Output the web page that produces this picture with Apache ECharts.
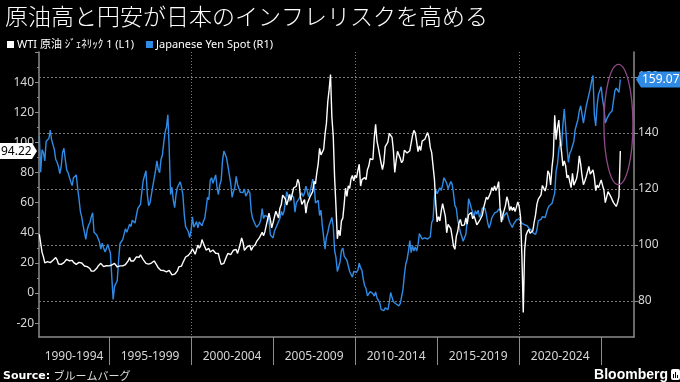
<!DOCTYPE html>
<html><head><meta charset="utf-8">
<script src="https://cdn.jsdelivr.net/npm/echarts@6/dist/echarts.min.js"></script>
<style>html,body{margin:0;padding:0;background:#000}#c{width:680px;height:382px}</style>
</head><body><div id="c"></div>
<script>
// Monthly series, first point = Oct 1990
const startYear = 1990, startMonth = 10;
const titleText = '原油高と円安が日本のインフレリスクを高める';
const wtiName = 'WTI 原油 ｼﾞｪﾈﾘｯｸ 1 (L1)';
const yenName = 'Japanese Yen Spot (R1)';

const wti1990s = [
  39, 33, 27,
  24, 20, 19.5, 20.8, 21.2, 20.2, 21.4, 21.7, 22.2, 23.5, 22.0, 19.3,
  18.8, 19.0, 18.9, 20.2, 20.9, 22.4, 21.8, 21.4, 21.9, 21.7, 20.3, 19.4,
  19.0, 20.1, 20.3, 20.3, 19.9, 19.1, 17.9, 18.0, 17.5, 18.1, 16.3, 14.5,
  15.0, 14.6, 14.7, 16.4, 17.9, 19.1, 19.7, 18.4, 17.5, 17.7, 18.1, 17.2,
  18.0, 18.5, 18.6, 19.9, 19.7, 18.4, 17.3, 17.9, 18.0, 17.4, 18.0, 19.0,
  18.9, 19.1, 21.3, 23.6, 21.3, 20.5, 21.3, 22.0, 24.0, 25.2, 23.7, 25.4,
  25.2, 22.2, 21.0, 19.7, 20.8, 19.2, 19.6, 19.9, 19.8, 21.3, 20.2, 18.3,
  16.7, 16.1, 15.0, 15.4, 14.9, 13.7, 14.1, 13.4, 15.0, 14.4, 12.0, 11.3,
  12.5, 12.0, 14.7, 17.3, 17.8, 17.9, 20.1, 21.3, 23.9, 22.6, 25.0, 26.1
];
const wti2000s = [
  27.3, 29.4, 29.9, 25.7, 28.8, 31.8, 29.7, 31.3, 35.5, 33.1, 34.4, 28.5,
  29.6, 29.6, 27.2, 27.4, 28.6, 27.6, 26.4, 27.4, 26.2, 22.2, 19.0, 19.4,
  19.7, 20.7, 24.4, 26.3, 27.0, 25.5, 26.9, 28.4, 29.7, 28.9, 26.3, 29.4,
  32.9, 36.5, 33.6, 28.3, 28.1, 30.7, 30.8, 31.6, 28.3, 30.3, 31.1, 32.2,
  34.3, 34.7, 36.8, 36.7, 40.3, 38.0, 40.7, 44.9, 45.9, 53.1, 48.5, 43.3,
  46.8, 48.0, 54.3, 53.0, 49.8, 56.3, 58.7, 65.0, 65.6, 62.4, 58.3, 59.4,
  65.5, 61.6, 62.9, 69.7, 70.9, 70.9, 75.5, 73.0, 63.8, 58.9, 59.1, 62.0,
  53.0, 59.3, 60.4, 63.9, 63.5, 67.5, 74.1, 72.4, 79.9, 85.8, 96.0, 91.7,
  93.0, 95.4, 105.5, 112.6, 127.0, 135.0, 145.0, 116.7, 104.1, 76.6, 57.3, 36.0,
  41.7, 38.0, 47.9, 49.7, 59.0, 69.7, 64.1, 71.1, 69.4, 75.7, 78.0, 74.5
];
const wti2010s = [
  78.3, 76.4, 81.2, 85.5, 71.0, 75.3, 76.3, 76.6, 75.2, 81.9, 84.3, 89.2,
  89.2, 88.6, 102.9, 112.0, 100.9, 96.3, 97.3, 86.3, 82.0, 86.3, 97.2, 98.6,
  100.3, 106.0, 106.2, 103.3, 94.7, 80.0, 87.9, 94.1, 94.5, 89.5, 86.5, 87.9,
  94.8, 95.3, 92.9, 92.0, 94.5, 95.8, 104.6, 108.0, 106.3, 100.5, 93.9, 97.6,
  94.6, 100.8, 100.8, 102.1, 102.2, 106.5, 103.6, 96.5, 93.2, 84.4, 75.8, 59.3,
  47.2, 50.6, 47.8, 54.5, 59.3, 59.8, 50.9, 40.0, 45.5, 46.2, 42.7, 37.3,
  31.0, 29.0, 37.6, 40.8, 46.7, 48.8, 44.7, 44.7, 45.2, 49.8, 45.7, 52.0,
  52.5, 53.5, 49.3, 51.1, 48.5, 45.2, 46.6, 48.0, 49.8, 51.6, 56.6, 57.9,
  63.7, 62.2, 62.7, 66.3, 70.0, 67.9, 71.0, 68.1, 70.2, 74.0, 57.0, 47.0,
  51.4, 54.9, 58.2, 63.9, 60.8, 54.7, 57.4, 54.8, 57.0, 54.0, 57.0, 60.5
];
const wti2020s = [
  57.5, 50.5, 25.0, -13.0, 28.6, 38.3, 40.7, 42.3, 39.6, 39.4, 41.4, 47.0,
  52.0, 59.0, 62.3, 61.7, 65.2, 71.4, 72.5, 67.7, 71.5, 81.2, 79.2, 71.7,
  83.2, 91.6, 118.0, 101.8, 109.6, 114.8, 101.6, 93.7, 84.3, 87.6, 84.4, 76.4,
  78.1, 76.8, 70.0, 79.4, 71.6, 70.3, 76.0, 81.4, 91.0, 85.6, 77.7, 71.9,
  74.2, 77.2, 80.6, 84.0, 79.0, 79.8, 81.8, 76.7, 68.0, 71.6, 69.9, 70.7,
  75.1, 71.5, 68.2, 60.0, 61.0, 67.3, 66.0, 64.0, 63.5, 60.0, 59.5, 57.5,
  60.0, 64.0, 94.22
];

const yen1990s = [
  139, 126, 134,
  133, 130, 137, 137, 138, 141, 137.5, 136.8, 134, 130.5, 129.5, 128,
  125.5, 128, 133, 134.5, 130.5, 126.8, 125.8, 126, 122.5, 121.2, 124, 124.5,
  125.0, 120.5, 116.5, 112, 110, 107, 107.5, 102, 105.3, 107, 108, 110,
  111.5, 104.5, 105.1, 103.5, 104.0, 101, 98.5, 100.6, 99.0, 97.5, 98.5, 100.2,
  99.8, 97, 88.5, 80.5, 85.2, 84.5, 87.2, 94.6, 100.5, 100.8, 101.9, 102,
  105.8, 104.5, 105.9, 107.4, 106.5, 108.8, 109.2, 107.8, 110.5, 113, 112.3, 114.5,
  119, 123, 123.5, 126.5, 118, 114, 115.1, 118, 121, 121.1, 126.5, 130,
  127, 125.8, 130.5, 132.0, 136.5, 140.3, 142, 146.5, 134.5, 118, 120.6, 116,
  113.3, 118, 120.5, 119.8, 122.5, 120.7, 118, 111, 106.5, 105.8, 104.7, 102.6
];
const yen2000s = [
  105.2, 110, 106.3, 105.6, 108.3, 106.1, 108.2, 108.1, 106.8, 108.4, 109.5, 113,
  117, 116.1, 123, 124, 122.0, 122.5, 125, 120.5, 118, 121.5, 123, 130,
  133.5, 134, 131.0, 130.8, 125, 122, 117, 119.0, 120.5, 124.5, 121.6, 121.9,
  118.8, 119.3, 118.7, 120, 117.4, 118.3, 119.5, 118.5, 112, 109.5, 109.2, 107.2,
  106.3, 106.6, 107.5, 109, 113, 109.4, 110.5, 110.2, 110.1, 108.8, 103.5, 103.8,
  102.5, 104.9, 105.3, 107.2, 106.6, 109.5, 112, 110.6, 112, 115.5, 119, 118.5,
  115.5, 117.9, 117.3, 117.1, 111.7, 115, 115.7, 116.5, 117.5, 118.6, 117.3, 118.5,
  121, 120.5, 117.3, 119, 121, 123.5, 121.6, 115, 115.0, 115.9, 110.5, 112.4,
  107, 107.1, 98.5, 102.7, 104.4, 106.9, 107, 109.8, 106.6, 98, 95.5, 90.5,
  90, 94, 98, 98.9, 96, 96.6, 94.5, 94.9, 90.5, 90.3, 88.5, 90.5
];
const yen2010s = [
  91.1, 90.2, 91, 93.5, 91.8, 90.9, 87.6, 85.4, 84.4, 81.8, 82.5, 83.3,
  82.6, 82.6, 81.7, 83.2, 81.1, 80.5, 79.3, 77.0, 76.8, 76.5, 77.5, 77.8,
  76.9, 79.5, 83, 81.3, 79.7, 79.3, 78.9, 78.7, 78.2, 79.0, 81.5, 84,
  89.1, 93.1, 94.8, 97.7, 101.5, 97.2, 99.7, 97.8, 99.3, 97.8, 100.0, 104,
  103.9, 102.1, 102.3, 102.5, 101.8, 102.1, 101.8, 102.9, 108, 109, 117, 119.5,
  118.3, 118.8, 120.4, 119.5, 121.5, 124, 123.3, 122, 120.1, 120.1, 122.6, 121.6,
  118.2, 114, 113.1, 109, 109.0, 104.5, 103, 101.3, 101.8, 103.8, 108.6, 116.5,
  114.9, 113.1, 113.0, 110.1, 112.2, 110.9, 112.4, 109.8, 110.8, 113.2, 112.8, 112.9,
  110.8, 107.8, 106.0, 107.5, 109.7, 110.0, 111.4, 111.0, 111.9, 112.8, 113.3, 112.1,
  108.9, 110.5, 111.2, 111.6, 109.8, 108.1, 108.3, 106.2, 107.5, 108.2, 108.9, 109.1
];
const yen2020s = [
  109.3, 110.0, 107.7, 107.8, 107.2, 107.6, 106.8, 106.0, 105.6, 105.2, 104.4, 103.8,
  103.7, 105.4, 108.7, 109.1, 109.1, 110.1, 110.2, 109.8, 110.2, 113.1, 114.0, 113.9,
  114.8, 115.2, 118.5, 126.3, 128.8, 133.9, 136.7, 135.3, 143.0, 148.5, 142.1, 134.8,
  129.5, 132.7, 133.7, 133.4, 137.0, 141.2, 141.0, 144.8, 147.9, 149.7, 149.7, 143.5,
  146.4, 149.5, 149.7, 153.7, 155.9, 158.5, 160.5, 146.4, 142.5, 149.7, 153.7, 153.7,
  156.5, 152.0, 149.1, 143.5, 144.9, 144.5, 146.8, 147.5, 147.9, 151.5, 155.0, 156.0,
  156.5, 154.5, 159.07
];

const periodLabels = ['1990-1994','1995-1999','2000-2004','2005-2009','2010-2014','2015-2019','2020-2024'];
const periodBounds = [1995, 2000, 2005, 2010, 2015, 2020, 2025];
const leftLabels = [-20, 0, 20, 40, 60, 80, 100, 120, 140];
const leftMinorTicks = [-10, 10, 30, 50, 70, 90, 110, 130, 150];
const rightTicks = [80, 100, 120, 140, 160];
const decadeLines = [2000, 2010, 2020];

const xMin = 1990.73, xMax = 2027.0;
const leftMin = -29.2, leftMax = 160;
const rightMin = 67.1, rightMax = 168.9;

const wti = [].concat(wti1990s, wti2000s, wti2010s, wti2020s);
const yen = [].concat(yen1990s, yen2000s, yen2010s, yen2020s);
const t0 = startYear + (startMonth - 1) / 12;
const toPairs = arr => arr.map((v, i) => [t0 + i / 12, v]);

const labelCenters = periodLabels.map(l => {
  const s = parseInt(l, 10);
  return (Math.max(s, xMin) + Math.min(s + 5, xMax)) / 2;
});

const AX = '#8c8c8c', LB = '#d6d6d6', BLUE = '#2f8be6', GRID = '#7a7a7a';
const chart = echarts.init(document.getElementById('c'), null, {renderer: 'canvas'});

chart.setOption({
  backgroundColor: '#000',
  animation: false,
  title: {
    text: titleText, left: 0, top: 0,
    textStyle: {color: '#fff', fontSize: 23, fontWeight: 300, fontFamily: 'Noto Sans CJK JP'}
  },
  legend: {
    data: [wtiName, yenName], left: 2, top: 34, icon: 'rect', itemWidth: 7, itemHeight: 7,
    itemGap: 12, selectedMode: false,
    textStyle: {color: '#fff', fontSize: 11, fontFamily: 'Noto Sans, Noto Sans CJK JP', padding: [0,0,0,-2]}
  },
  grid: {left: 39, right: 46, top: 52, bottom: 45, containLabel: false, outerBoundsMode: 'none'},
  xAxis: [{
    type: 'value', min: xMin, max: xMax, position: 'bottom',
    axisLine: {show: true, onZero: false, lineStyle: {color: AX, width: 1.5}},
    axisTick: {show: true, customValues: periodBounds, length: 28, lineStyle: {color: AX, width: 1}},
    axisLabel: {
      customValues: labelCenters, color: LB, fontSize: 12, margin: 14, fontFamily: 'Noto Sans',
      formatter: v => periodLabels[Math.floor((v - 1990) / 5)] || ''
    },
    splitLine: {show: false}
  }, {
    type: 'value', min: xMin, max: xMax, position: 'bottom', gridIndex: 0,
    axisLine: {show: false, onZero: false}, axisLabel: {show: false},
    axisTick: {show: false, customValues: decadeLines},
    splitLine: {show: true, lineStyle: {color: GRID, type: [1, 2], width: 1}}
  }],
  yAxis: [{
    type: 'value', position: 'left', min: leftMin, max: leftMax,
    axisLine: {show: true, onZero: false, lineStyle: {color: AX, width: 1.5}},
    axisTick: {show: true, customValues: leftLabels.concat([160]), length: 4, lineStyle: {color: AX}},
    axisLabel: {customValues: leftLabels, color: LB, fontSize: 12, margin: 5, fontFamily: 'Noto Sans'},
    splitLine: {show: false}
  }, {
    type: 'value', position: 'right', min: rightMin, max: rightMax,
    axisLine: {show: true, onZero: false, lineStyle: {color: AX, width: 1.5}},
    axisTick: {show: true, customValues: rightTicks, length: 4, lineStyle: {color: AX}},
    axisLabel: {customValues: rightTicks, color: LB, fontSize: 12, margin: 4, fontFamily: 'Noto Sans'},
    splitLine: {show: false}
  }, {
    type: 'value', position: 'left', min: leftMin, max: leftMax, offset: 0,
    axisLine: {show: false, onZero: false}, axisLabel: {show: false}, splitLine: {show: false},
    axisTick: {show: true, customValues: leftMinorTicks, length: 2, lineStyle: {color: AX}}
  }, {
    type: 'value', position: 'right', min: rightMin, max: rightMax, offset: 0,
    axisLine: {show: false, onZero: false}, axisLabel: {show: false},
    axisTick: {show: false, customValues: rightTicks},
    splitLine: {show: true, lineStyle: {color: GRID, type: [2, 2], width: 1}}
  }],
  series: [{
    name: yenName, type: 'line', yAxisIndex: 1, data: toPairs(yen), showSymbol: false,
    color: BLUE, lineStyle: {color: BLUE, width: 1.4}, z: 2
  }, {
    name: wtiName, type: 'line', yAxisIndex: 0, data: toPairs(wti), showSymbol: false,
    color: '#ffffff', lineStyle: {color: '#ffffff', width: 1.4}, z: 3
  }]
});

const lastW = wti[wti.length - 1], lastY = yen[yen.length - 1];
const yL = chart.convertToPixel({yAxisIndex: 0}, lastW);
const yR = chart.convertToPixel({yAxisIndex: 1}, lastY);
const xE = chart.convertToPixel({xAxisIndex: 0}, 2026.05);
const yTop = chart.convertToPixel({yAxisIndex: 1}, 164.5);
const yBot = chart.convertToPixel({yAxisIndex: 1}, 121.5);
const W = 680;

chart.setOption({
  graphic: [
    {type: 'ellipse', z: 50, shape: {cx: xE, cy: (yTop + yBot) / 2, rx: 14.5, ry: (yBot - yTop) / 2},
     style: {fill: 'none', stroke: '#8e4a86', lineWidth: 1.3}},
    {type: 'polygon', z: 60, shape: {points: [[0, yL - 8], [32, yL - 8], [37, yL], [32, yL + 8], [0, yL + 8]]},
     style: {fill: '#ffffff'}},
    {type: 'text', z: 61, x: 1, y: yL, style: {text: lastW.toFixed(2), fill: '#000', fontSize: 12,
      fontFamily: 'Noto Sans', verticalAlign: 'middle'}},
    {type: 'polygon', z: 60, shape: {points: [[636, yR], [641, yR - 8], [W, yR - 8], [W, yR + 8], [641, yR + 8]]},
     style: {fill: BLUE}},
    {type: 'text', z: 61, x: 642, y: yR, style: {text: lastY.toFixed(2), fill: '#fff', fontSize: 12,
      fontFamily: 'Noto Sans', verticalAlign: 'middle'}},
    {type: 'text', z: 61, x: 3, y: 376, style: {
      text: '{b|Source:} {j|ブルームバーグ}', verticalAlign: 'middle',
      rich: {b: {fill: '#fff', fontSize: 11, fontWeight: 'bold', fontFamily: 'DejaVu Sans'},
             j: {fill: '#ddd', fontSize: 11, fontFamily: 'Noto Sans CJK JP'}}}},
    {type: 'text', z: 61, x: 668, y: 375, style: {text: 'Bloomberg', fill: '#fff', fontSize: 14,
      fontWeight: 'bold', fontFamily: 'Liberation Sans', align: 'right', verticalAlign: 'middle'}},
    {type: 'rect', z: 61, shape: {x: 671, y: 369, width: 9, height: 11, r: 2}, style: {fill: '#fff'}},
    {type: 'rect', z: 62, shape: {x: 673, y: 374, width: 1, height: 4}, style: {fill: '#000'}},
    {type: 'rect', z: 62, shape: {x: 675, y: 372, width: 1, height: 6}, style: {fill: '#000'}},
    {type: 'rect', z: 62, shape: {x: 677, y: 375, width: 1, height: 3}, style: {fill: '#000'}}
  ]
});
</script></body></html>
